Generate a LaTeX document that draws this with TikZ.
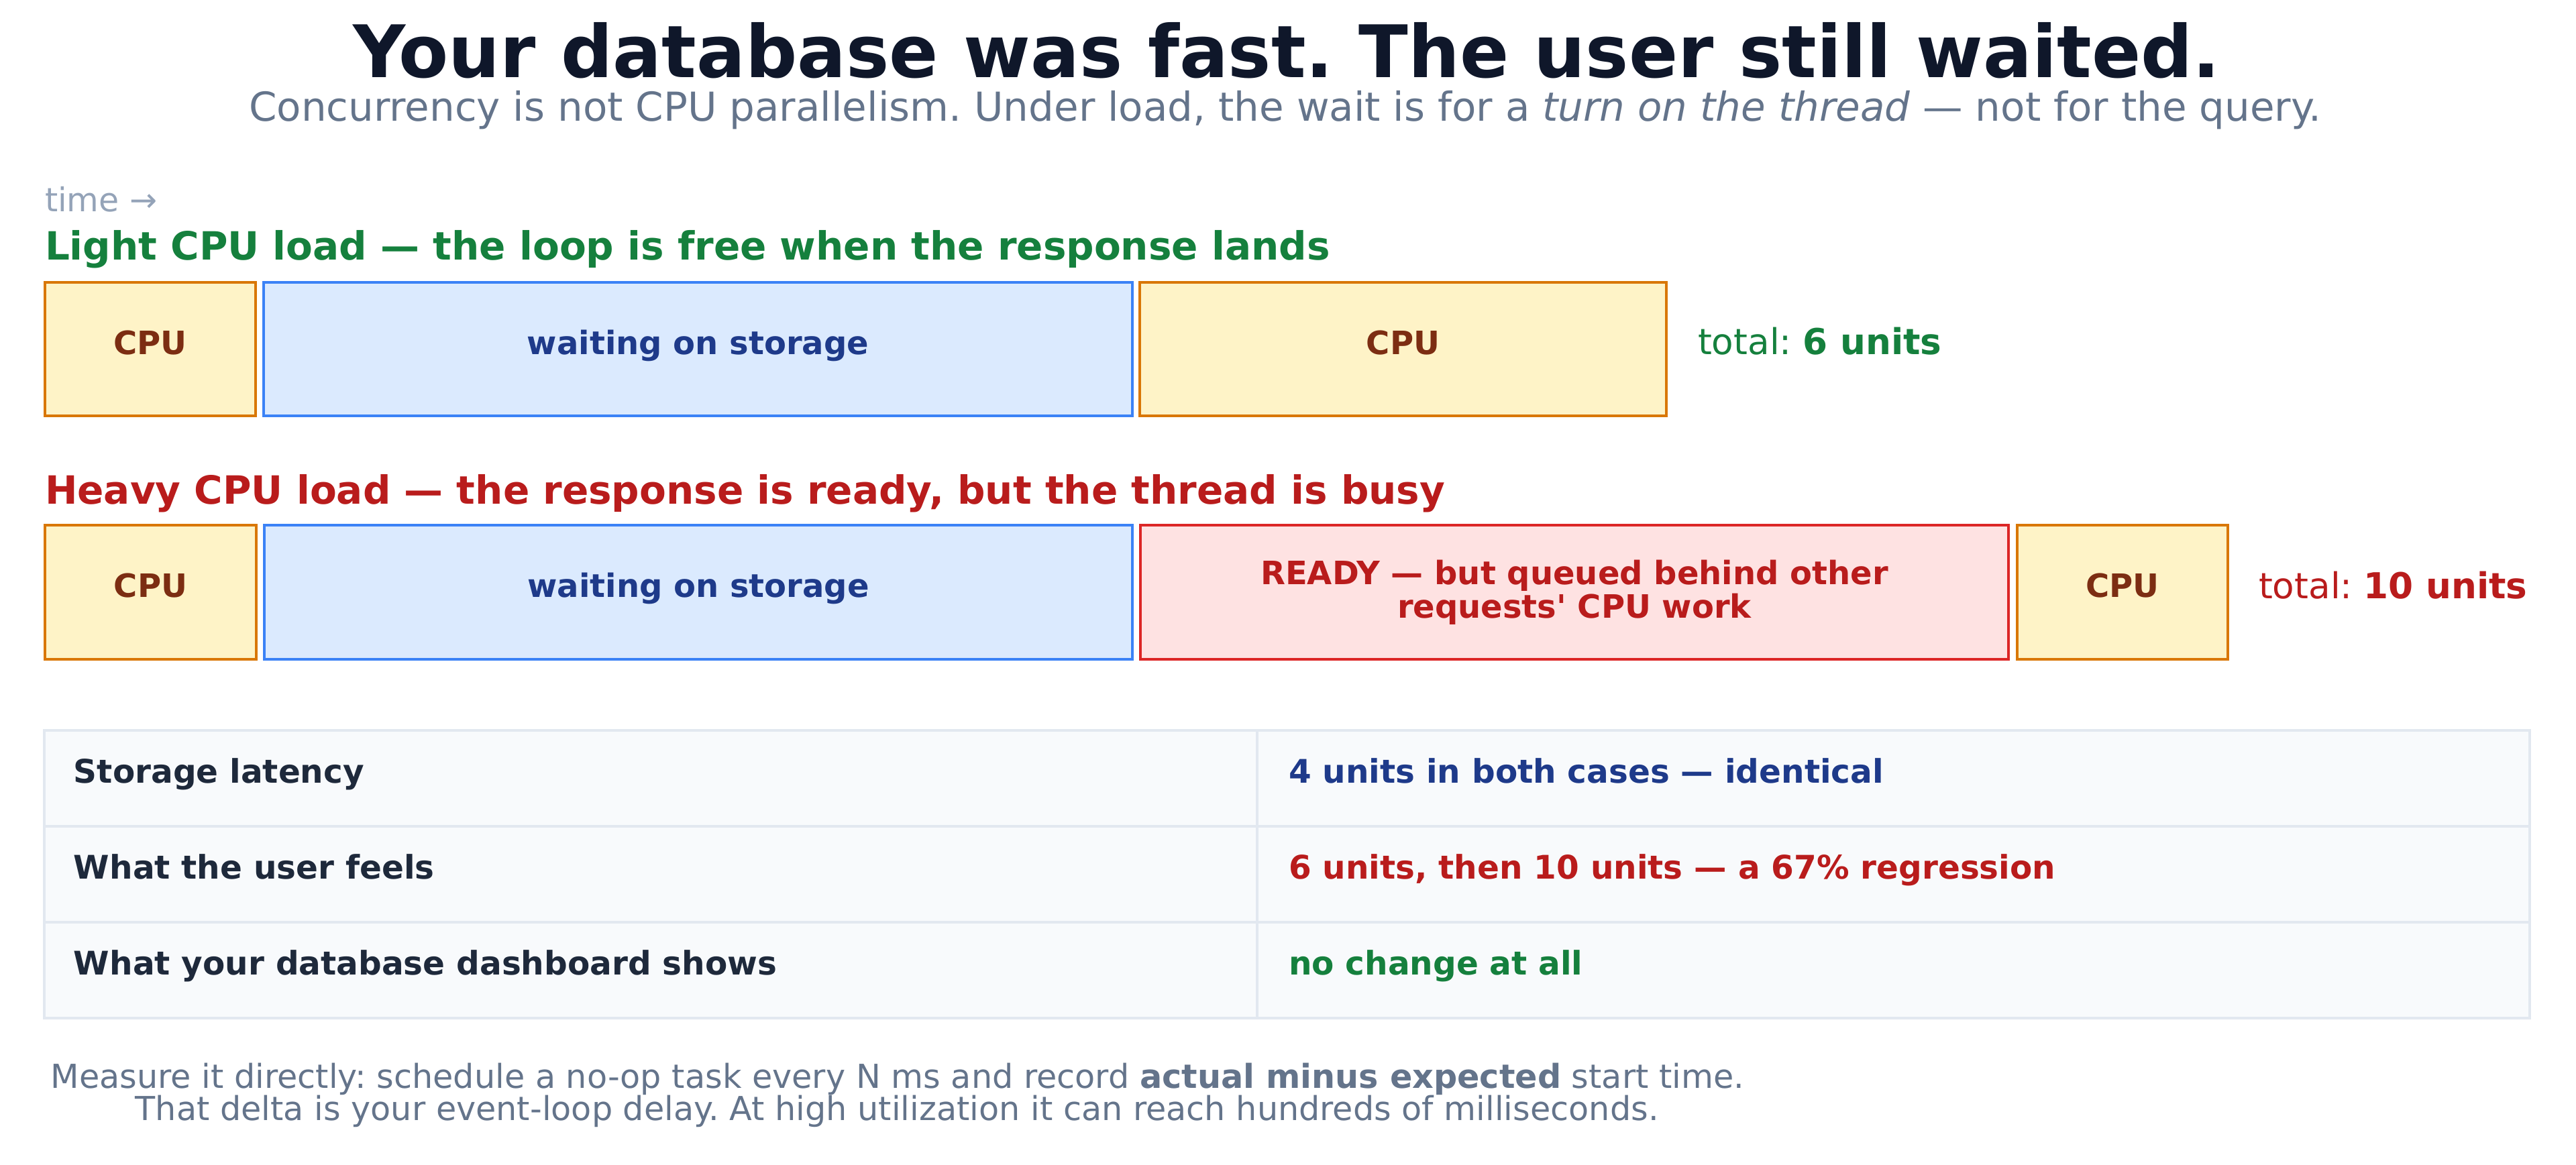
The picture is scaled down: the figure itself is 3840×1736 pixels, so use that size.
\documentclass[tikz,border=0pt]{standalone}
\usepackage{fontspec}
\setmainfont{DejaVu Sans}
\font\aposB="DejaVu Sans/B" at 9.6pt
\definecolor{titleC}{HTML}{0F172A}
\definecolor{subC}{HTML}{64748B}
\definecolor{timeC}{HTML}{94A3B8}
\definecolor{greenC}{HTML}{15803D}
\definecolor{redC}{HTML}{B91C1C}
\definecolor{cpuF}{HTML}{FEF3C7}
\definecolor{cpuB}{HTML}{D97706}
\definecolor{cpuT}{HTML}{7C2D12}
\definecolor{waitF}{HTML}{DBEAFE}
\definecolor{waitB}{HTML}{3B82F6}
\definecolor{waitT}{HTML}{1E3A8A}
\definecolor{readyF}{HTML}{FEE2E2}
\definecolor{readyB}{HTML}{DC2626}
\definecolor{readyT}{HTML}{B91C1C}
\definecolor{tabF}{HTML}{F8FAFC}
\definecolor{tabB}{HTML}{E2E8F0}
\definecolor{tabT}{HTML}{1E293B}
\begin{document}
\frenchspacing
\begin{tikzpicture}[x=0.2pt,y=-0.2pt,
  txt/.style={inner sep=0pt, outer sep=0pt},
  boxlbl/.style={font=\fontsize{9.6pt}{10pt}\selectfont\bfseries, inner sep=0pt, outer sep=0pt, line width=0.9pt},
  cpubox/.style={boxlbl, draw=cpuB, fill=cpuF, text=cpuT, text height=8pt, text depth=5pt},
  waitbox/.style={boxlbl, draw=waitB, fill=waitF, text=waitT, text height=8pt, text depth=5pt},
  readybox/.style={boxlbl, draw=readyB, fill=readyF, text=readyT, align=center},
  cell/.style={draw=tabB, fill=tabF, line width=0.8pt, inner sep=0pt, minimum height=28.6pt},
  celltxt/.style={txt, anchor=base west, font=\fontsize{9.7pt}{11pt}\selectfont\bfseries},
  total/.style={txt, anchor=base west, font=\fontsize{10.65pt}{12pt}\selectfont},
  heading/.style={txt, anchor=base west, font=\fontsize{11.6pt}{13pt}\selectfont\bfseries},
  foottxt/.style={txt, anchor=base, text=subC, font=\fontsize{9.85pt}{11pt}\selectfont}
]
\useasboundingbox (0,0) rectangle (3840,1736);
\fill[white] (0,0) rectangle (3840,1736);

% title
\node[txt, anchor=base, text=titleC, font=\fontsize{21.6pt}{25pt}\selectfont\bfseries] (title) at (1918,115) {Your database was fast. The user still waited.};
\node[txt, anchor=base, text=subC, font=\fontsize{11.9pt}{13pt}\selectfont] (sub) at (1916,180) {Concurrency is not CPU parallelism. Under load, the wait is for a \textit{turn on the thread} — not for the query.};

\node[txt, anchor=base west, text=timeC, font=\fontsize{9.8pt}{11pt}\selectfont] (time) at (67,315) {time →};

% light row
\node[heading, text=greenC] (lighthead) at (67,387) {Light CPU load — the loop is free when the response lands};
\node[cpubox, minimum width=62.8pt, minimum height=39.8pt] (l1) at (224,520.5) {CPU};
\node[waitbox, minimum width=259pt, minimum height=39.8pt] (l2) at (1040.5,520.5) {waiting on storage};
\node[cpubox, minimum width=157pt, minimum height=39.8pt] (l3) at (2091.5,520.5) {CPU};
\node[total, text=greenC] (ltot) at (2531,528) {total: \textbf{6 units}};

% heavy row
\node[heading, text=redC] (heavyhead) at (67,751) {Heavy CPU load — the response is ready, but the thread is busy};
\node[cpubox, minimum width=63pt, minimum height=40pt] (h1) at (224.5,883) {CPU};
\node[waitbox, minimum width=258.8pt, minimum height=40pt] (h2) at (1041,883) {waiting on storage};
\node[readybox, minimum width=258.8pt, minimum height=40pt] (h3) at (2347,883) {READY — but queued behind other\\requests{\aposB\char"27} CPU work};
\node[cpubox, minimum width=62.8pt, minimum height=40pt] (h4) at (3164,883) {CPU};
\node[total, text=redC] (htot) at (3367,892) {total: \textbf{10 units}};

% table
\node[cell, minimum width=361.6pt] (c11) at (970,1160) {};
\node[cell, minimum width=379.4pt] (c12) at (2822.5,1160) {};
\node[cell, minimum width=361.6pt] (c21) at (970,1303.5) {};
\node[cell, minimum width=379.4pt] (c22) at (2822.5,1303.5) {};
\node[cell, minimum width=361.6pt] (c31) at (970,1446.5) {};
\node[cell, minimum width=379.4pt] (c32) at (2822.5,1446.5) {};

\node[celltxt, text=tabT] (t11) at ([xshift=9.2pt,yshift=-1.4pt]c11.west) {Storage latency};
\node[celltxt, text=waitT] (t12) at ([xshift=9.8pt,yshift=-1.4pt]c12.west) {4 units in both cases — identical};
\node[celltxt, text=tabT] (t21) at ([xshift=9.2pt,yshift=-1.4pt]c21.west) {What the user feels};
\node[celltxt, text=redC] (t22) at ([xshift=9.8pt,yshift=-1.4pt]c22.west) {6 units, then 10 units — a 67\% regression};
\node[celltxt, text=tabT] (t31) at ([xshift=9.2pt,yshift=-1.4pt]c31.west) {What your database dashboard shows};
\node[celltxt, text=greenC] (t32) at ([xshift=9.8pt,yshift=-1.4pt]c32.west) {no change at all};

% footer
\node[foottxt] (foot1) at (1338,1622) {Measure it directly: schedule a no-op task every N ms and record \textbf{actual minus expected} start time.};
\node[foottxt] (foot2) at (1337,1670) {That delta is your event-loop delay. At high utilization it can reach hundreds of milliseconds.};
\end{tikzpicture}
\end{document}
